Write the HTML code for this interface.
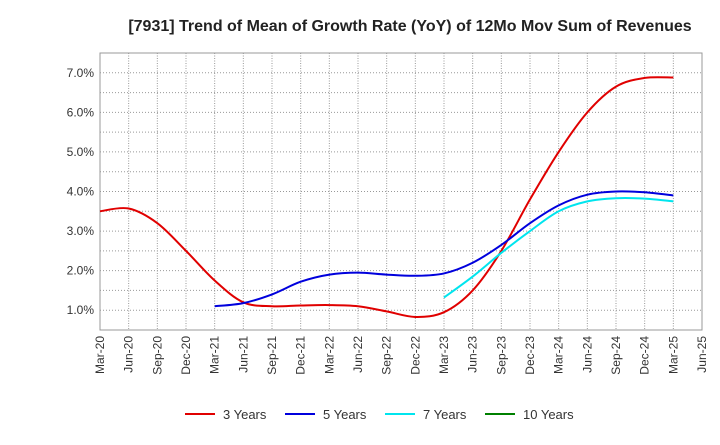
<!DOCTYPE html>
<html><head><meta charset="utf-8"><style>
body{margin:0;background:#fff;font-family:"Liberation Sans",sans-serif}
</style></head><body>
<svg id="chart" width="720" height="440" xmlns="http://www.w3.org/2000/svg" font-family="Liberation Sans, sans-serif">
<text x="410" y="31" text-anchor="middle" font-size="16" font-weight="bold" fill="#222">[7931]  Trend of Mean of Growth Rate (YoY) of 12Mo Mov Sum of Revenues</text>
<g id="grid"></g><g id="axes"></g><g id="series"></g><g id="legend"></g>
</svg>
<script>
const xLabels=["Mar-20","Jun-20","Sep-20","Dec-20","Mar-21","Jun-21","Sep-21","Dec-21","Mar-22","Jun-22","Sep-22","Dec-22","Mar-23","Jun-23","Sep-23","Dec-23","Mar-24","Jun-24","Sep-24","Dec-24","Mar-25","Jun-25"];
const yTicks=[1,2,3,4,5,6,7];
const s3=[3.5,3.57,3.2,2.5,1.75,1.2,1.1,1.12,1.13,1.1,0.97,0.83,0.95,1.5,2.5,3.8,5.0,6.0,6.65,6.87,6.88];
const s5=[null,null,null,null,1.1,1.18,1.4,1.72,1.9,1.95,1.9,1.87,1.93,2.2,2.65,3.2,3.65,3.92,4.0,3.98,3.9];
const s7=[null,null,null,null,null,null,null,null,null,null,null,null,1.32,1.85,2.45,3.0,3.5,3.75,3.83,3.82,3.75];
const s10=[];
const L=100,R=702,T=53,B=330,yMin=0.5,yMax=7.5;
const X=i=>L+(R-L)*i/(xLabels.length-1);
const Y=v=>B-(B-T)*(v-yMin)/(yMax-yMin);
const NS="http://www.w3.org/2000/svg";
function mk(tag,attrs,parent,txt){const e=document.createElementNS(NS,tag);for(const k in attrs)e.setAttribute(k,attrs[k]);if(txt!=null)e.textContent=txt;document.getElementById(parent).appendChild(e);return e;}
const bg=mk('rect',{x:L,y:T,width:R-L,height:B-T,fill:'#fff',stroke:'#999'},'grid');


for(let i=0;i<xLabels.length;i++){
 const g=mk('line',{x1:X(i),x2:X(i),y1:T,y2:B,stroke:'#999','stroke-dasharray':'1,1.5'},'grid');
 
 
 const t=mk('text',{x:0,y:0,'font-size':12,fill:'#333','text-anchor':'end',transform:`translate(${X(i)+4},${B+6}) rotate(-90)`},'axes',xLabels[i]);
 
 
}
for(let v=yMin+0.5;v<yMax;v+=0.5){
 const g=mk('line',{x1:L,x2:R,y1:Y(v),y2:Y(v),stroke:'#999','stroke-dasharray':'1,2'},'grid');
 
 
}
yTicks.forEach(v=>{
 const t=mk('text',{x:L-6,y:Y(v)+4,'font-size':12,fill:'#333','text-anchor':'end'},'axes',v.toFixed(1)+'%');
 
 
});
function path(arr){
 const p=[];arr.forEach((v,i)=>{if(v!=null)p.push([X(i),Y(v)]);});
 if(p.length<2)return '';
 let d=`M${p[0][0]},${p[0][1]}`;
 for(let i=0;i<p.length-1;i++){
  const p0=p[i-1]||p[i],p1=p[i],p2=p[i+1],p3=p[i+2]||p2;
  d+=` C${p1[0]+(p2[0]-p0[0])/6},${p1[1]+(p2[1]-p0[1])/6} ${p2[0]-(p3[0]-p1[0])/6},${p2[1]-(p3[1]-p1[1])/6} ${p2[0]},${p2[1]}`;
 }
 return d;
}
const series=[[s3,'#e00000','3 Years','line-3-years'],[s5,'#0000dd','5 Years','line-5-years'],[s7,'#00e5ee','7 Years','line-7-years'],[s10,'#008000','10 Years','line-10-years']];
series.forEach(([a,c,n,id],k)=>{
 const d=path(a);
 if(d){const e=mk('path',{d:d,fill:'none',stroke:c,'stroke-width':2},'series');
 
 }
 const lx=185+k*100;
 const l=mk('line',{x1:lx,x2:lx+30,y1:414,y2:414,stroke:c,'stroke-width':2},'legend');
 
 
 const t=mk('text',{x:lx+38,y:419,'font-size':13,fill:'#333'},'legend',n);
 
 
});
</script>
</body></html>
